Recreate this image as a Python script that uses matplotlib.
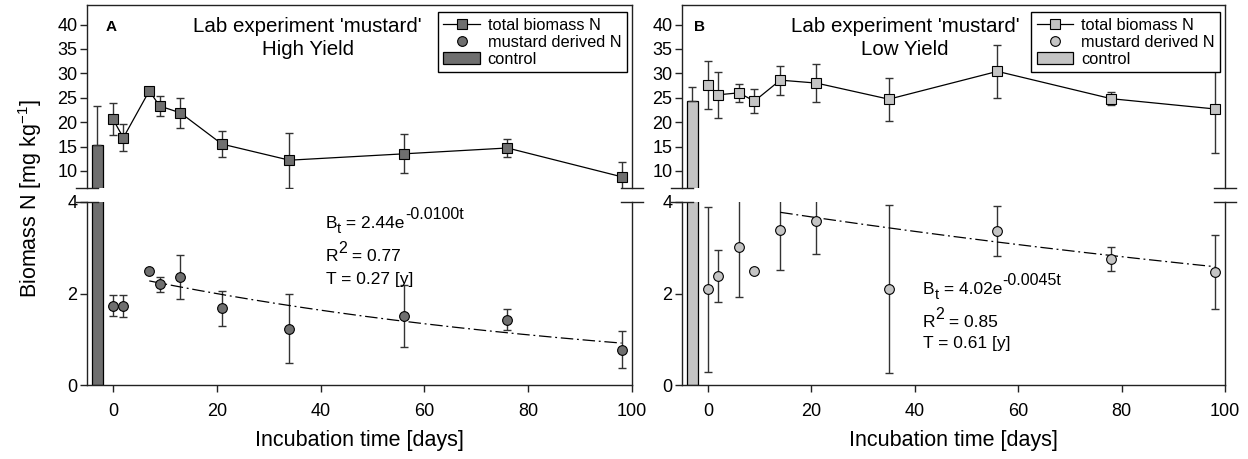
import matplotlib
matplotlib.use('Agg')
import matplotlib.pyplot as plt
import numpy as np
from matplotlib.lines import Line2D
from matplotlib.patches import Patch

plt.rcParams['font.family'] = ['Liberation Sans', 'DejaVu Sans']

# ---------------- data ----------------
days_A = [0, 2, 7, 9, 13, 21, 34, 56, 76, 98]
total_A = [20.6, 16.8, 26.4, 23.3, 21.9, 15.5, 12.2, 13.5, 14.7, 8.8]
total_A_err = [3.3, 2.8, 0, 2.0, 3.1, 2.7, 5.6, 4.0, 1.8, 3.0]
mustard_A = [1.73, 1.73, 2.50, 2.20, 2.36, 1.68, 1.23, 1.51, 1.43, 0.77]
mustard_A_err = [0.23, 0.24, 0, 0.16, 0.48, 0.38, 0.76, 0.67, 0.23, 0.40]
control_A = 15.4
control_A_err = 7.9

days_B = [0, 2, 6, 9, 14, 21, 35, 56, 78, 98]
total_B = [27.6, 25.6, 26.0, 24.3, 28.6, 28.0, 24.7, 30.4, 24.8, 22.7]
total_B_err = [5.0, 4.7, 1.8, 2.4, 3.0, 3.9, 4.4, 5.4, 1.3, 9.0]
mustard_B = [2.09, 2.38, 3.02, 2.49, 3.38, 3.58, 2.10, 3.36, 2.75, 2.47]
mustard_B_err = [1.80, 0.56, 1.09, 0, 0.86, 0.71, 1.83, 0.55, 0.26, 0.81]
control_B = 24.35
control_B_err = 2.8

# exponential fits B_t = a * exp(-k t), drawn over [t0, t1]
fit_A = dict(a=2.44, k=0.0100, t0=7, t1=98)
fit_B = dict(a=4.02, k=0.0045, t0=14, t1=98)

ann_A = [('2.44', '-0.0100t'), '0.77', '0.27']
ann_B = [('4.02', '-0.0045t'), '0.85', '0.61']

top_ticks = [10, 15, 20, 25, 30, 35, 40]
bot_ticks = [0, 2, 4]
x_ticks = [0, 20, 40, 60, 80, 100]

# ---------------- layout ----------------
W, H = 1248, 459
fig = plt.figure(figsize=(W / 100, H / 100), dpi=100)


def rect(l, r, t, b):
    return [l / W, 1 - b / H, (r - l) / W, (b - t) / H]


axAt = fig.add_axes(rect(87, 632, 5, 188))
axAb = fig.add_axes(rect(87, 632, 202, 385))
axBt = fig.add_axes(rect(682, 1225, 5, 188))
axBb = fig.add_axes(rect(682, 1225, 202, 385))

SPC = '#222222'
ERRC = '#333333'
TICKFS = 13
ANNFS = 12.5


def draw_panel(axt, axb, days, total, total_err, mustard, mustard_err,
               ctrl, ctrl_err, fit, color, letter, subtitle, ann, ann_pos,
               title_x, letter_x):
    days = np.asarray(days, float)
    total = np.asarray(total, float)
    total_err = np.asarray(total_err, float)
    mustard = np.asarray(mustard, float)
    mustard_err = np.asarray(mustard_err, float)

    for ax in (axt, axb):
        ax.set_xlim(-5, 100)
        for s in ax.spines.values():
            s.set_color(SPC)
            s.set_linewidth(1.0)
        ax.tick_params(direction='out', length=5, width=1, color=SPC,
                       labelsize=TICKFS, pad=2)
        ax.bar([-3], [ctrl], width=2.15, color=color, edgecolor='black',
               linewidth=0.9, zorder=2)

    axt.set_ylim(6.5, 44)
    axb.set_ylim(0, 4)
    axt.spines['bottom'].set_visible(False)
    axb.spines['top'].set_visible(False)
    axt.set_xticks([])
    axt.set_yticks(top_ticks)
    axb.set_yticks(bot_ticks)
    axb.set_xticks(x_ticks)
    axb.tick_params(axis='x', length=5, pad=8)

    axt.errorbar([-3], [ctrl], yerr=[[0], [ctrl_err]], fmt='none',
                 ecolor=ERRC, elinewidth=1, capsize=3, capthick=1, zorder=3)

    m = total_err > 0
    axt.errorbar(days[m], total[m], yerr=total_err[m], fmt='none',
                 ecolor=ERRC, elinewidth=1, capsize=3, capthick=1, zorder=3)
    axt.plot(days, total, color='black', lw=0.9, marker='s', markersize=6.5,
             mfc=color, mec='black', mew=0.8, zorder=4)

    m = mustard_err > 0
    axb.errorbar(days[m], mustard[m], yerr=mustard_err[m], fmt='none',
                 ecolor=ERRC, elinewidth=1, capsize=3, capthick=1, zorder=3)
    axb.plot(days, mustard, ls='none', marker='o', markersize=7,
             mfc=color, mec='black', mew=0.8, zorder=4)

    t = np.linspace(fit['t0'], fit['t1'], 200)
    axb.plot(t, fit['a'] * np.exp(-fit['k'] * t), color='black', lw=0.9,
             ls=(0, (10, 3, 1.5, 3)), zorder=3)

    # annotation (sub/superscripts drawn as separate texts to control size)
    x0, ys = ann_pos
    tr = axb.transData
    t1 = axb.text(x0, ys[0], 'B', fontsize=ANNFS, ha='left', va='baseline')
    fig.canvas.draw()
    rend = fig.canvas.get_renderer()

    def after(txt_obj, s, dy_pt, fs):
        bb = txt_obj.get_window_extent(rend)
        xd = axb.transData.inverted().transform((bb.x1, 0))[0]
        yb = txt_obj.get_position()[1]
        ypix = axb.transData.transform((0, yb))[1] + dy_pt * 100 / 72
        yd = axb.transData.inverted().transform((0, ypix))[1]
        return axb.text(xd, yd, s, fontsize=fs, ha='left', va='baseline')

    sub = after(t1, 't', -4.0, ANNFS * 0.85)
    main = after(sub, ' = %se' % ann[0][0], 4.0, ANNFS)
    after(main, ann[0][1], 6.0, ANNFS * 0.92)

    t2 = axb.text(x0, ys[1], 'R', fontsize=ANNFS, ha='left', va='baseline')
    sup = after(t2, '2', 5.5, ANNFS * 0.92)
    after(sup, ' = %s' % ann[1], -5.5, ANNFS)

    axb.text(x0, ys[2], 'T = %s [y]' % ann[2], fontsize=ANNFS, ha='left',
             va='baseline')

    axt.text(title_x, 38.4, "Lab experiment 'mustard'", fontsize=14.8,
             ha='center', va='baseline')
    axt.text(title_x, 33.7, subtitle, fontsize=14.8, ha='center', va='baseline')
    axt.text(letter_x, 38.6, letter, fontsize=11, fontweight='bold',
             ha='left', va='baseline')

    handles = [Line2D([], [], color='black', lw=0.9, marker='s', markersize=6.5,
                      mfc=color, mec='black', mew=0.8),
               Line2D([], [], ls='none', marker='o', markersize=7, mfc=color,
                      mec='black', mew=0.8),
               Patch(facecolor=color, edgecolor='black', linewidth=0.9)]
    leg = axt.legend(handles, ['total biomass N', 'mustard derived N', 'control'],
                     loc='upper right', bbox_to_anchor=(0.991, 0.962),
                     borderaxespad=0, fontsize=11.8, frameon=True, fancybox=False,
                     edgecolor='black', framealpha=1, handlelength=2.2,
                     handletextpad=0.5, labelspacing=0.12, borderpad=0.35)
    leg.get_frame().set_linewidth(1.0)
    leg.set_zorder(10)

    for ax, yy in ((axt, 0), (axb, 1)):
        for xx in (0, 1):
            ax.plot([xx - 0.021, xx + 0.021], [yy, yy], color=SPC, lw=1.0,
                    transform=ax.transAxes, clip_on=False, zorder=5)

    axb.set_xlabel('Incubation time [days]', fontsize=15.5, labelpad=7)


draw_panel(axAt, axAb, days_A, total_A, total_A_err, mustard_A, mustard_A_err,
           control_A, control_A_err, fit_A, '#6f6f6f', 'A', 'High Yield',
           ann_A, (41, [3.44, 2.72, 2.20]), 37.5, -1.4)
draw_panel(axBt, axBb, days_B, total_B, total_B_err, mustard_B, mustard_B_err,
           control_B, control_B_err, fit_B, '#c4c4c4', 'B', 'Low Yield',
           ann_B, (41.6, [2.00, 1.27, 0.81]), 38.1, -2.7)

fig.text(30 / W, 1 - 199 / H, 'Biomass N [mg kg$^\\mathregular{-1}$]', rotation=90,
         fontsize=15.5, ha='center', va='center')

fig.savefig('out.png', dpi=100)
